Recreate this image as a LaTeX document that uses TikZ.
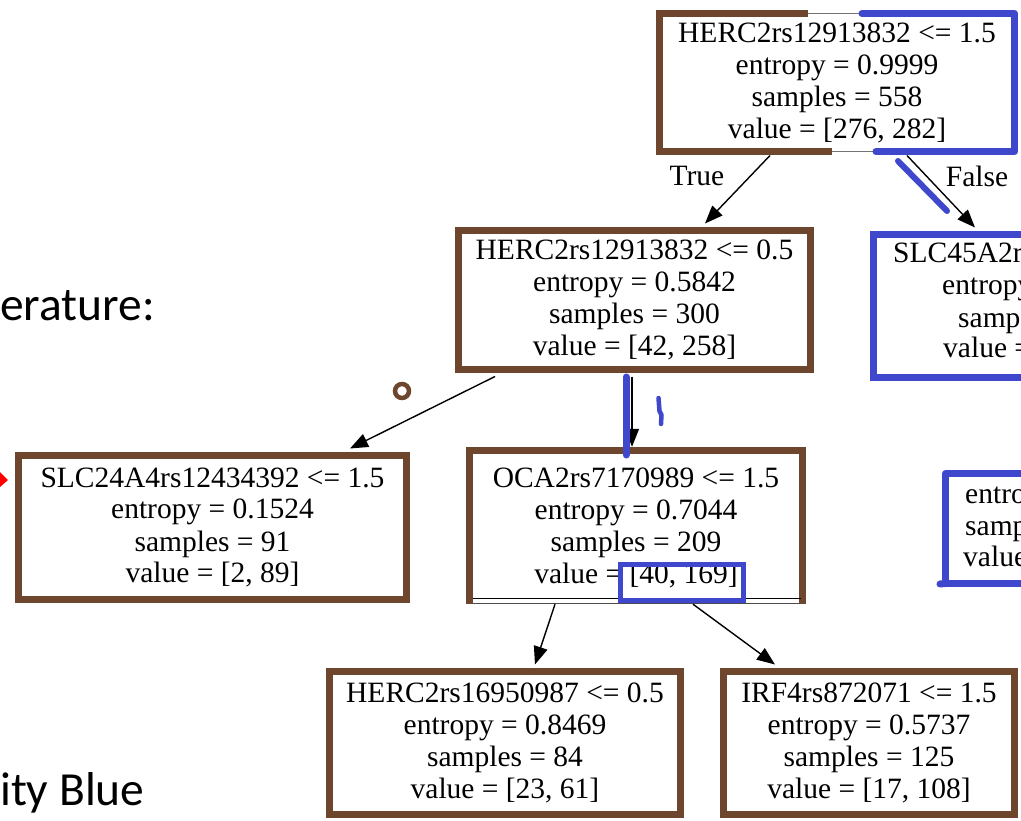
\documentclass[tikz,border=0pt]{standalone}
\usepackage{fontspec}
\newfontfamily\gv{Liberation Serif}
\newfontfamily\slide{Carlito}
\usetikzlibrary{arrows.meta}
\definecolor{brownc}{RGB}{110,70,46}
\definecolor{bluec}{RGB}{63,72,204}
\begin{document}
\begin{tikzpicture}[x=1pt,y=-1pt,
  gvtext/.style={font=\gv\fontsize{29.5}{32}\selectfont, align=center, inner sep=0pt},
  tbox/.style={gvtext, draw=brownc, line width=7pt},
  gvedge/.style={draw=black, line width=1.4pt, -{Triangle[length=18pt,width=14pt]}},
  bluemark/.style={draw=bluec, line width=7pt, line cap=round, line join=round},
  brownmark/.style={draw=brownc, line width=7pt, line cap=butt, line join=miter},
  frag/.style={font=\gv\fontsize{29.5}{32}\selectfont, anchor=base west, inner sep=0pt},
  slidetext/.style={font=\slide\fontsize{47.5}{50}\selectfont, anchor=base west, inner sep=0pt}]
\useasboundingbox (0,0) rectangle (1021,821);
\clip (0,0) rectangle (1021,821);
\fill[white] (0,0) rectangle (1021,821);

% slide text fragments
\node[slidetext] (lit) at (0,320) {erature:};
\node[slidetext] (eye) at (0,805) {ity Blue};
\fill[red] (0,472) -- (8,480) -- (0,487) -- cycle;

% tree nodes
\node[gvtext, draw=black!55, line width=1pt, minimum width=355pt, minimum height=138pt] (root) at (837,82.5)
  {HERC2rs12913832 <= 1.5\\entropy = 0.9999\\samples = 558\\value = [276, 282]};
\node[tbox, minimum width=352pt, minimum height=139pt] (n2) at (634.5,300)
  {HERC2rs12913832 <= 0.5\\entropy = 0.5842\\samples = 300\\value = [42, 258]};
\node[draw=bluec, line width=7pt, minimum width=345pt, minimum height=143pt, inner sep=0pt] (n3) at (1046,306) {};
\node[tbox, minimum width=388pt, minimum height=144pt] (n5) at (212.5,527.5)
  {SLC24A4rs12434392 <= 1.5\\entropy = 0.1524\\samples = 91\\value = [2, 89]};
\node[gvtext, minimum width=333pt, minimum height=150pt, text depth=0pt] (n6) at (636,525.5)
  {OCA2rs7170989 <= 1.5\\entropy = 0.7044\\samples = 209\\value = [40, 169]};
\node[tbox, minimum width=351pt, minimum height=143pt] (n7) at (505,743)
  {HERC2rs16950987 <= 0.5\\entropy = 0.8469\\samples = 84\\value = [23, 61]};
\node[tbox, minimum width=291pt, minimum height=143pt] (n8) at (869,743)
  {IRF4rs872071 <= 1.5\\entropy = 0.5737\\samples = 125\\value = [17, 108]};

% OCA2 frame: brown on three sides, graphviz double line at the bottom
\draw[brownmark] ([yshift=-3.5pt]n6.south west) -- (n6.north west) -- (n6.north east) -- ([yshift=-3.5pt]n6.south east);
\draw[black, line width=0.9pt] ([xshift=4pt,yshift=2pt]n6.south west) -- ([xshift=-2pt,yshift=2pt]n6.south east);
\draw[black!70, line width=0.9pt] ([xshift=4pt,yshift=-2.5pt]n6.south west) -- ([xshift=-2pt,yshift=-2.5pt]n6.south east);

% clipped node texts on the right
\node[frag] (n3a) at (893,263) {SLC45A2r};
\node[frag] (n3b) at (942,295) {entropy};
\node[frag] (n3c) at (958,327) {samp};
\node[frag] (n3d) at (943,358) {value =};
\coordinate (n4tl) at (945.5,473.5);
\coordinate (n4bl) at (945.5,583.5);
\draw[bluemark] (1030,473.5) -- (n4tl) -- (n4bl) -- (1030,583.5);
\draw[bluemark] (940,584) -- (n4bl);
\node[frag] (n4a) at (965,503) {entro};
\node[frag] (n4b) at (965,535) {samp};
\node[frag] (n4c) at (963,566) {value};

% edges
\draw[gvedge] ([xshift=-67pt,yshift=-3.5pt]root.south) -- ([xshift=70.5pt,yshift=3.5pt]n2.north);
\draw[gvedge] ([xshift=70pt,yshift=-3.5pt]root.south) -- ([xshift=-71pt,yshift=3.5pt]n3.north);
\draw[gvedge] ([xshift=-139.5pt,yshift=-3.5pt]n2.south) -- ([xshift=137.5pt,yshift=3.5pt]n5.north);
\draw[gvedge] ([xshift=-2.5pt,yshift=-3.5pt]n2.south) -- ([xshift=-4pt,yshift=3.5pt]n6.north);
\draw[gvedge] ([xshift=-81pt,yshift=-3.5pt]n6.south) -- ([xshift=30pt,yshift=3.5pt]n7.north);
\draw[gvedge] ([xshift=57pt,yshift=-3.5pt]n6.south) -- ([xshift=-94pt,yshift=3.5pt]n8.north);
\node[gvtext] (ltrue) at (697,176) {True};
\node[gvtext] (lfalse) at (977,176) {False};

% hand-drawn annotations
\draw[brownmark] (808,13.5) -- (659.5,13.5) -- (659.5,151.5) -- (832,151.5);
\draw[bluemark] (862,13.5) -- (1014.5,13.5) -- (1014.5,151.5) -- (876,151.5);
\draw[bluec, line width=6pt, line cap=round] (898,161) -- (947,211);
\draw[bluemark] (626,377) -- (626,455);
\draw[bluec, line width=4.5pt, line cap=round, line join=round] (658.5,398) -- (659.5,411) -- (661.5,415) -- (661,424);
\draw[bluec, line width=5pt] (620.5,564.5) rectangle (743.5,600.5);
\draw[brownc, line width=4.5pt] (402,391) circle[radius=7pt];
\end{tikzpicture}
\end{document}
